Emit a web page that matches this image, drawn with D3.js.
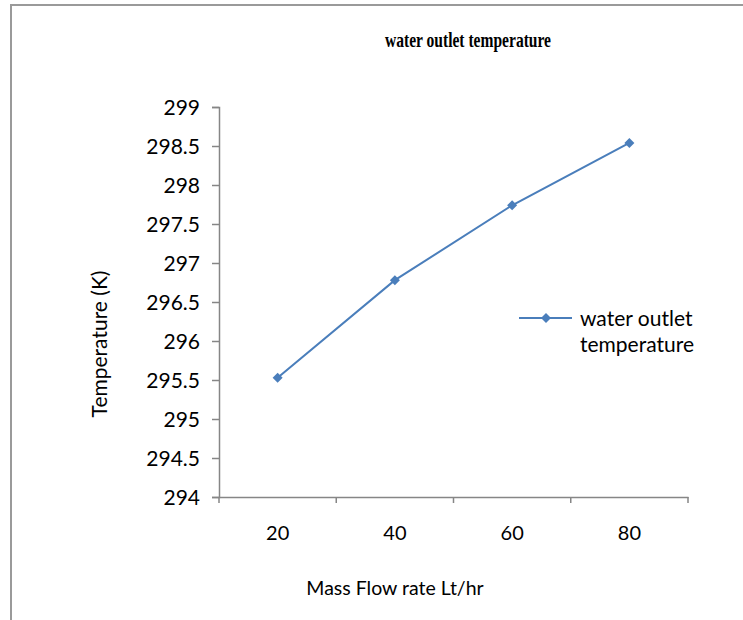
<!DOCTYPE html>
<html><head><meta charset="utf-8">
<script src="https://cdn.jsdelivr.net/npm/d3@7"></script>
<style>body{margin:0;background:#fff;}svg{display:block;}</style>
</head><body>
<script>
const categories = ["20", "40", "60", "80"];
const seriesName = "water outlet temperature";
const values = [295.53, 296.78, 297.74, 298.54];
const yTicks = [294, 294.5, 295, 295.5, 296, 296.5, 297, 297.5, 298, 298.5, 299];
const title = "water outlet temperature";
const xTitle = "Mass Flow rate Lt/hr";
const yTitle = "Temperature (K)";

(function () {
const W = 743, H = 620;
const svg = d3.select("body").append("svg").attr("width", W).attr("height", H);
svg.append("rect").attr("width", W).attr("height", H).attr("fill", "#fff");
svg.append("path").attr("d", `M11,${H} V5 H${W}`).attr("fill", "none").attr("stroke", "#9a9a9a").attr("stroke-width", 2);

const pL = 219, pR = 688, pT = 107, pB = 497;
const x = d3.scaleBand().domain(categories).range([pL, pR]);
const y = d3.scaleLinear().domain([294, 299]).range([pB, pT]);
const font = "Lato, 'Open Sans', sans-serif";
const axisColor = "#868686";

const yAxis = svg.append("g").attr("transform", `translate(${pL},0)`)
  .call(d3.axisLeft(y).tickValues(yTicks).tickSize(7).tickPadding(12).tickFormat(d => d3.format("")(d)));
yAxis.select(".domain").attr("stroke", axisColor).attr("stroke-width", 1.5);
yAxis.selectAll(".tick line").attr("stroke", axisColor).attr("stroke-width", 1.5);
yAxis.selectAll(".tick text").attr("font-family", font).attr("font-size", 21).attr("fill", "#000").attr("dy", "0.36em");

const xAxis = svg.append("g").attr("transform", `translate(0,${pB})`)
  .call(d3.axisBottom(x).tickSize(0).tickPadding(29));
xAxis.select(".domain").attr("stroke", axisColor).attr("stroke-width", 1.5);
xAxis.selectAll(".tick text").attr("font-family", font).attr("font-size", 20).attr("fill", "#000");
const bounds = categories.map(c => x(c)).concat([x(categories[categories.length-1]) + x.bandwidth()]);
xAxis.selectAll(".bnd").data(bounds).enter().append("line")
  .attr("x1", d => d).attr("x2", d => d).attr("y1", 0).attr("y2", 6)
  .attr("stroke", axisColor).attr("stroke-width", 1.5);

const cx = c => x(c) + x.bandwidth() / 2;
const line = d3.line().x((d, i) => cx(categories[i])).y(d => y(d));
const blue = "#4a7ebb";
svg.append("path").datum(values).attr("d", line).attr("fill", "none").attr("stroke", blue).attr("stroke-width", 2);
const marker = d3.symbol().type(d3.symbolSquare).size(50);
svg.selectAll(".pt").data(values).enter().append("path")
  .attr("d", marker).attr("transform", (d, i) => `translate(${cx(categories[i])},${y(d)}) rotate(45)`).attr("fill", blue);

svg.append("text").attr("x", 468).attr("y", 47).attr("text-anchor", "middle")
  .attr("font-family", "'Liberation Serif', 'Times New Roman', serif").attr("font-weight", "bold")
  .attr("font-size", 21).attr("textLength", 166).attr("lengthAdjust", "spacingAndGlyphs").text(title);

svg.append("text").attr("x", 395).attr("y", 595).attr("text-anchor", "middle")
  .attr("font-family", font).attr("font-size", 19.5).text(xTitle);
svg.append("text").attr("transform", "translate(107,344) rotate(-90)").attr("text-anchor", "middle")
  .attr("font-family", font).attr("font-size", 21).text(yTitle);

const lg = svg.append("g");
lg.append("line").attr("x1", 519).attr("x2", 572).attr("y1", 318).attr("y2", 318).attr("stroke", blue).attr("stroke-width", 2);
lg.append("path").attr("d", marker).attr("transform", "translate(546,318) rotate(45)").attr("fill", blue);
const lt = lg.append("text").attr("font-family", font).attr("font-size", 21).attr("fill", "#000");
lt.append("tspan").attr("x", 580).attr("y", 326).text("water outlet");
lt.append("tspan").attr("x", 580).attr("y", 352).text("temperature");
})();
</script>
</body></html>
